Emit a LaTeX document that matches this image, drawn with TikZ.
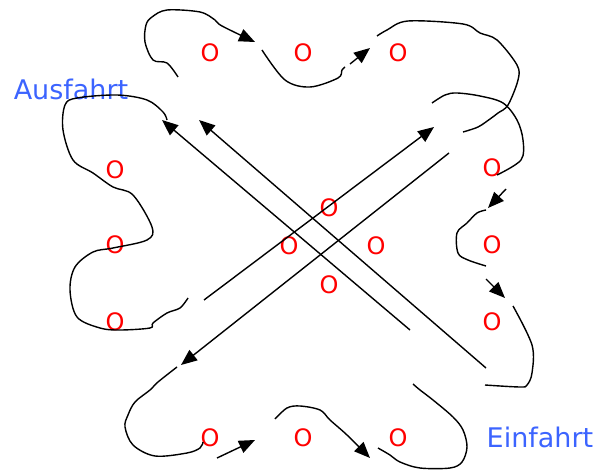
\documentclass[tikz,border=0pt]{standalone}
\usepackage{fontspec}
\setmainfont{DejaVu Sans}
\usetikzlibrary{arrows.meta}
\definecolor{signblue}{RGB}{60,100,255}
\definecolor{carred}{RGB}{255,0,0}
\begin{document}
\begin{tikzpicture}[x=1pt, y=-1pt, line width=1.4pt, >={Triangle[length=16pt,width=13pt]}]
\useasboundingbox (0,0) rectangle (599,470);
\tikzstyle{every node}=[text=carred, inner sep=0pt, font=\fontsize{24}{28}\selectfont];
\tikzstyle{sign}=[text=signblue, font=\fontsize{27}{32}\selectfont];
\tikzstyle{lane}=[smooth, tension=0.55];
% cars
\node (t1) at (210,53) {O};
\node (t2) at (303,53) {O};
\node (t3) at (398,53) {O};
\node (l1) at (115,170) {O};
\node (l2) at (115,245) {O};
\node (l3) at (115,322) {O};
\node (r1) at (492,168) {O};
\node (r2) at (492,245) {O};
\node (r3) at (492,322) {O};
\node (b1) at (210,438) {O};
\node (b2) at (303,438) {O};
\node (b3) at (398,438) {O};
\node (c1) at (329,208) {O};
\node (c2) at (289,246) {O};
\node (c3) at (376,246) {O};
\node (c4) at (329,285) {O};
\node [sign] (aus) at (71,89) {Ausfahrt};
\node [sign] (ein) at (540,437) {Einfahrt};
% straight lanes
\coordinate (p1) at (410,330);
\coordinate (q1) at (162,120);
\coordinate (p2) at (486,368);
\coordinate (q2) at (199,120);
\coordinate (p3) at (204,300);
\coordinate (q3) at (434,127);
\coordinate (p4) at (449,153);
\coordinate (q4) at (181,365);
\draw [->] (p1) -- (q1);
\draw [->] (p2) -- (q2);
\draw [->] (p3) -- (q3);
\draw [->] (p4) -- (q4);
% top
\draw [->] plot [lane] coordinates {(178,77) (167,63) (153,60) (145,42) (146,25) (152,17) (167,10) (200,12) (215,20) (222,26) (255,42)};
\draw plot [lane] coordinates {(262,50) (285,80) (310,87) (338,78) (342,70) (345,67)};
\coordinate (ta) at (350,64);
\coordinate (tb) at (370,48);
\draw [->] (ta) -- (tb);
\draw plot [lane] coordinates {(377,36) (387,30) (408,21) (463,24) (480,33) (497,40) (517,65) (518,80) (508,105) (498,113) (490,119) (478,127) (463,132)};
% right
\draw plot [lane] coordinates {(432,103) (445,95) (457,93) (480,96) (503,103) (517,120) (523,140) (521,160) (497,175)};
\coordinate (ra) at (506,189);
\coordinate (rb) at (488,208);
\draw [->] (ra) -- (rb);
\draw plot [lane] coordinates {(486,210) (477,213) (467,223) (457,233) (458,253) (468,260) (486,266)};
\coordinate (rc) at (486,279);
\coordinate (rd) at (505,298);
\draw [->] (rc) -- (rd);
\draw plot [lane] coordinates {(513,306) (532,345) (532,373) (527,385) (520,387) (485,385)};
% bottom
\draw plot [lane] coordinates {(413,384) (420,390) (433,400) (453,417) (463,430) (467,447) (462,462) (450,468) (420,468) (400,462) (390,455) (378,448)};
\draw [->] plot [lane] coordinates {(275,419) (287,408) (300,406) (320,410) (330,420) (347,435) (370,458)};
\coordinate (ba) at (217,458);
\coordinate (bb) at (255,440);
\draw [->] (ba) -- (bb);
\draw plot [lane] coordinates {(203,442) (200,448) (187,453) (155,456) (133,445) (125,427) (128,415) (135,402) (150,390) (158,382) (177,367)};
% left
\draw plot [lane] coordinates {(188,298) (180,308) (167,313) (153,323) (150,328) (120,330) (100,328) (77,317) (70,290) (75,267) (93,252) (113,248) (147,240) (152,227) (133,195) (113,187) (93,173) (73,160) (63,130) (65,105) (77,98) (117,95) (147,100) (163,112) (167,120)};
\end{tikzpicture}
\end{document}
